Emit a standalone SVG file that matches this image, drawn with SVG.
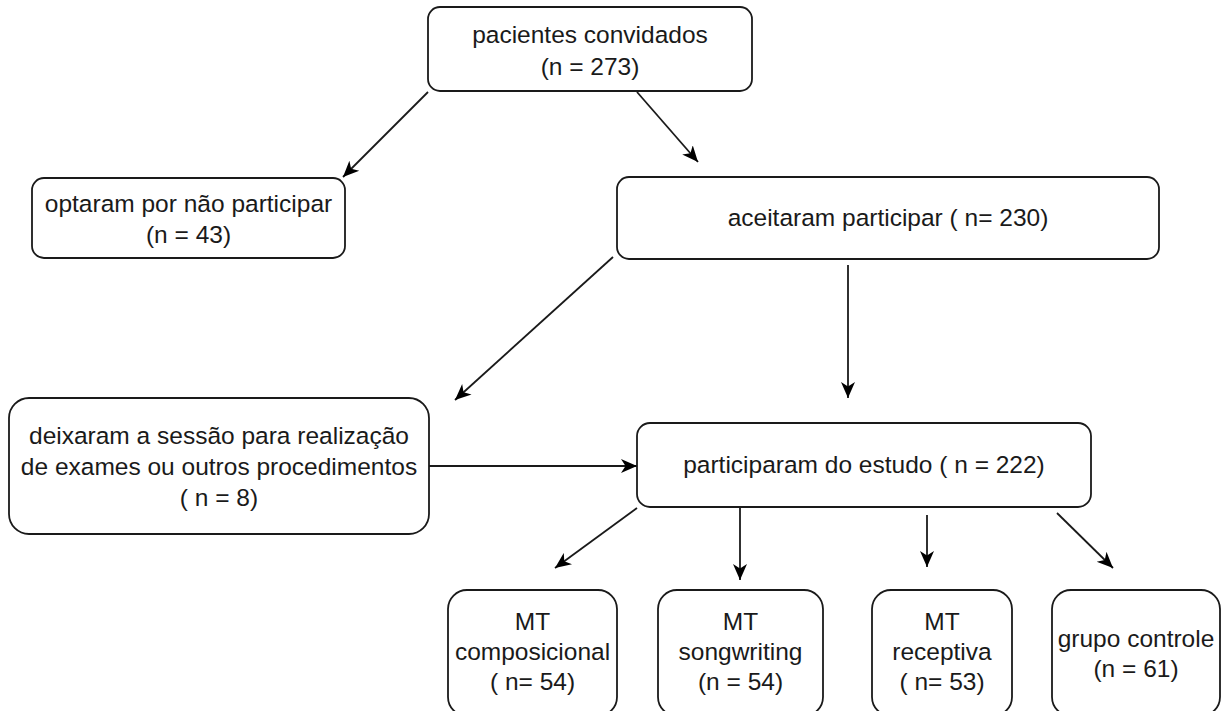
<svg xmlns="http://www.w3.org/2000/svg" width="1228" height="711" viewBox="0 0 1228 711">
<style>
.box{fill:#fff;stroke:#1a1a1a;stroke-width:1.8}
.t{font-family:"Liberation Sans",Arial,Helvetica,sans-serif;font-size:24.5px;fill:#1a1a1a;text-anchor:middle}
.c{stroke:#1a1a1a;stroke-width:1.8;fill:none;marker-end:url(#ah)}
</style>
<defs>
<marker id="ah" markerUnits="userSpaceOnUse" markerWidth="18" markerHeight="16" refX="16" refY="8" orient="auto">
<path d="M0,1 L16,8 L0,15 L4.5,8 Z" fill="#000"/>
</marker>
</defs>
<rect width="1228" height="711" fill="#fff"/>
<g id="connectors">
<line class="c" x1="428" y1="92" x2="343" y2="177"/>
<line class="c" x1="637" y1="92" x2="698" y2="162"/>
<line class="c" x1="613" y1="257" x2="455" y2="400"/>
<line class="c" x1="848" y1="265" x2="848" y2="398"/>
<line class="c" x1="429" y1="466" x2="637" y2="466"/>
<line class="c" x1="637" y1="508" x2="555" y2="568"/>
<line class="c" x1="740" y1="507" x2="740" y2="580"/>
<line class="c" x1="927" y1="515" x2="927" y2="567"/>
<line class="c" x1="1057" y1="513" x2="1113" y2="568"/>
</g>
<g id="n-convidados">
<rect class="box" x="428" y="7" width="324" height="84" rx="12"/>
<text class="t" x="590" y="43">pacientes convidados</text>
<text class="t" x="590" y="75">(n = 273)</text>
</g>
<g id="n-optaram">
<rect class="box" x="32" y="178" width="313" height="80" rx="12"/>
<text class="t" x="188.5" y="212">optaram por não participar</text>
<text class="t" x="188.5" y="243">(n = 43)</text>
</g>
<g id="n-aceitaram">
<rect class="box" x="617" y="177" width="542" height="82" rx="12"/>
<text class="t" x="888" y="226">aceitaram participar ( n= 230)</text>
</g>
<g id="n-deixaram">
<rect class="box" x="9" y="398" width="420" height="136" rx="20"/>
<text class="t" x="219" y="444">deixaram a sessão para realização</text>
<text class="t" x="219" y="475">de exames ou outros procedimentos</text>
<text class="t" x="219" y="506">( n = 8)</text>
</g>
<g id="n-participaram">
<rect class="box" x="637" y="423" width="454" height="84" rx="13"/>
<text class="t" x="864" y="473">participaram do estudo ( n = 222)</text>
</g>
<g id="n-composicional">
<rect class="box" x="448" y="590" width="169" height="126" rx="19"/>
<text class="t" x="532.5" y="630">MT</text>
<text class="t" x="532.5" y="660">composicional</text>
<text class="t" x="532.5" y="690">( n= 54)</text>
</g>
<g id="n-songwriting">
<rect class="box" x="658" y="590" width="165" height="126" rx="19"/>
<text class="t" x="740.5" y="630">MT</text>
<text class="t" x="740.5" y="660">songwriting</text>
<text class="t" x="740.5" y="690">(n = 54)</text>
</g>
<g id="n-receptiva">
<rect class="box" x="872" y="590" width="140" height="126" rx="19"/>
<text class="t" x="942" y="630">MT</text>
<text class="t" x="942" y="660">receptiva</text>
<text class="t" x="942" y="690">( n= 53)</text>
</g>
<g id="n-controle">
<rect class="box" x="1052" y="590" width="168" height="126" rx="19"/>
<text class="t" x="1136" y="647">grupo controle</text>
<text class="t" x="1136" y="677">(n = 61)</text>
</g>
</svg>
